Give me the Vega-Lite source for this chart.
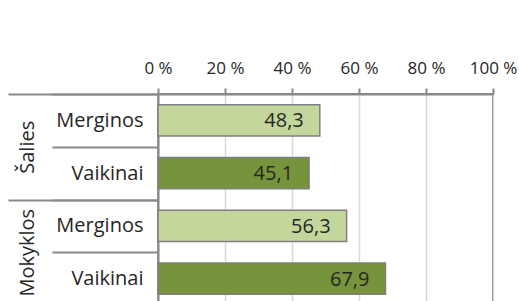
{
  "$schema": "https://vega.github.io/schema/vega-lite/v6.json",
  "autosize": "none",
  "width": 335,
  "height": 211,
  "padding": {"left": 158, "top": 94, "right": 26, "bottom": -4},
  "background": "white",
  "config": {
    "view": {"stroke": "#898989", "strokeWidth": 2},
    "font": "Open Sans",
    "locale": {"number": {"decimal": ",", "thousands": " ", "grouping": [3], "currency": ["", " €"]}}
  },
  "data": {
    "values": [
      {"grp": "Šalies", "sex": "Merginos", "key": "Šalies|Merginos", "value": 48.3},
      {"grp": "Šalies", "sex": "Vaikinai", "key": "Šalies|Vaikinai", "value": 45.1},
      {"grp": "Mokyklos", "sex": "Merginos", "key": "Mokyklos|Merginos", "value": 56.3},
      {"grp": "Mokyklos", "sex": "Vaikinai", "key": "Mokyklos|Vaikinai", "value": 67.9}
    ]
  },
  "layer": [
    {
      "encoding": {
        "y": {
          "field": "key", "type": "nominal", "sort": null,
          "scale": {"paddingInner": 0, "paddingOuter": 0},
          "axis": {
            "orient": "left", "title": null,
            "labelExpr": "split(datum.label, '|')[1]",
            "tickBand": "extent", "tickSize": 106, "tickColor": "#898989", "tickWidth": 2,
            "domainColor": "#898989", "domainWidth": 2,
            "labelPadding": -91, "labelFontSize": 20, "labelFont": "Open Sans", "labelColor": "#262626",
            "grid": false
          }
        },
        "x": {
          "field": "value", "type": "quantitative",
          "scale": {"domain": [0, 100], "nice": false},
          "axis": {
            "orient": "top", "title": null,
            "values": [0, 20, 40, 60, 80, 100],
            "labelExpr": "datum.value + ' %'",
            "grid": true, "gridColor": "#D9D9D9", "gridWidth": 1.5,
            "domainColor": "#898989", "domainWidth": 2,
            "tickColor": "#898989", "tickWidth": 2, "tickSize": 6,
            "labelPadding": 11, "labelFontSize": 17, "labelFont": "Open Sans", "labelColor": "#262626",
            "labelFlush": false
          }
        }
      },
      "layer": [
        {
          "mark": {"type": "bar", "height": {"band": 0.588}, "stroke": "#7f7f7f", "strokeWidth": 1.5},
          "encoding": {
            "color": {
              "field": "sex", "type": "nominal",
              "scale": {"domain": ["Merginos", "Vaikinai"], "range": ["#C3D69B", "#77933C"]},
              "legend": null
            }
          }
        },
        {
          "mark": {"type": "text", "align": "right", "baseline": "middle", "dx": -16, "dy": 1, "fontSize": 20, "font": "Open Sans", "color": "#262626"},
          "encoding": {
            "text": {"field": "value", "type": "quantitative", "format": ".1f"}
          }
        }
      ]
    },
    {
      "mark": {"type": "point", "opacity": 0},
      "encoding": {
        "y": {
          "field": "grp", "type": "nominal", "sort": null,
          "scale": {"paddingInner": 0, "paddingOuter": 0},
          "axis": {
            "orient": "left", "title": null,
            "tickBand": "extent", "tickSize": 150, "tickColor": "#898989", "tickWidth": 2,
            "domain": false,
            "labelAngle": -90, "labelAlign": "center", "labelBaseline": "alphabetic",
            "labelPadding": -25.5, "labelFontSize": 20, "labelFont": "Open Sans", "labelColor": "#262626",
            "grid": false
          }
        },
        "x": {"field": "value", "type": "quantitative"}
      }
    }
  ],
  "resolve": {"scale": {"y": "independent"}, "axis": {"y": "independent"}}
}
